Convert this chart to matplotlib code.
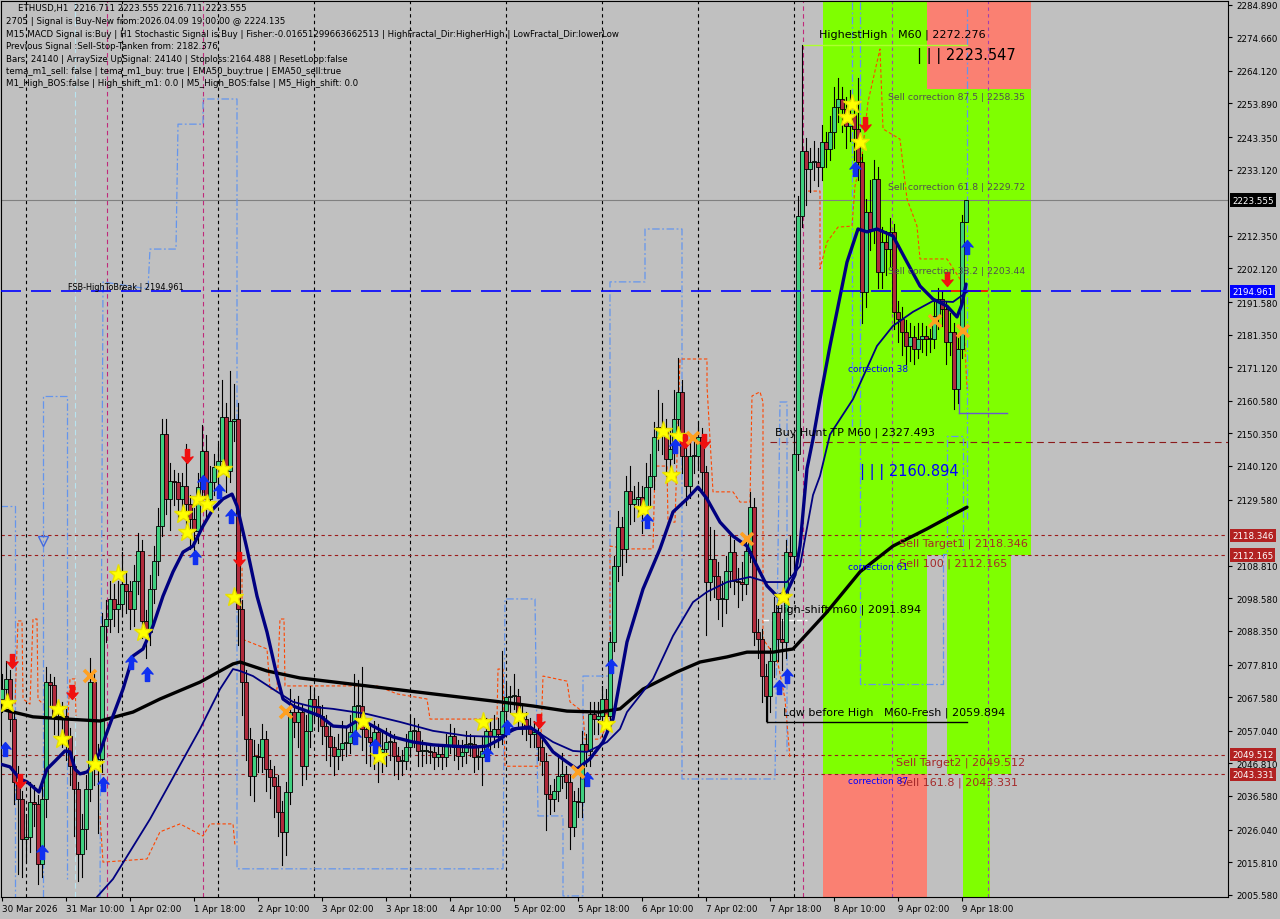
import matplotlib
matplotlib.use('Agg')
import matplotlib.pyplot as plt
import matplotlib.transforms as mtransforms
from matplotlib.patches import Rectangle
from matplotlib.path import Path

# ---- candle data (H1 bars, index 0 = 30 Mar 18:00) ----
first_open = 2067.0
closes = [2070.1, 2073.3, 2060.7, 2041.0, 2035.6, 2023.1, 2023.7, 2034.7, 2034.1, 2015.2,
          2035.6, 2072.3, 2071.4, 2061.7, 2060.7, 2061.7, 2055.4, 2045.9, 2038.7, 2018.4,
          2026.2, 2038.7, 2072.3, 2045.9, 2048.2, 2089.9, 2092.1, 2098.4, 2095.3, 2096.8,
          2103.1, 2100.9, 2095.3, 2104.0, 2113.4, 2091.5, 2088.0, 2101.5, 2110.3, 2121.3,
          2150.2, 2129.8, 2135.4, 2135.1, 2129.8, 2133.9, 2128.2, 2123.5, 2119.7, 2133.5,
          2144.8, 2129.8, 2135.1, 2139.8, 2141.7, 2155.5, 2138.6, 2154.2, 2154.9, 2095.3,
          2072.3, 2054.4, 2042.8, 2049.1, 2048.8, 2054.4, 2045.0, 2042.5, 2039.7, 2031.5,
          2025.3, 2037.8, 2062.9, 2059.8, 2062.9, 2045.9, 2057.0, 2067.0, 2064.8, 2061.7,
          2058.5, 2055.4, 2051.9, 2049.1, 2051.3, 2053.2, 2053.2, 2056.6, 2064.8, 2064.8,
          2057.6, 2055.1, 2053.5, 2056.6, 2050.4, 2051.3, 2053.5, 2053.5, 2049.1, 2047.5,
          2047.5, 2051.9, 2057.0, 2057.0, 2050.7, 2050.7, 2050.7, 2050.4, 2048.8, 2049.7,
          2048.8, 2052.2, 2055.4, 2051.9, 2049.1, 2050.4, 2052.9, 2052.9, 2048.8, 2048.8,
          2050.7, 2057.0, 2055.4, 2057.6, 2056.0, 2063.2, 2067.6, 2067.9, 2067.9, 2061.7,
          2060.7, 2058.2, 2056.0, 2056.6, 2051.9, 2047.5, 2037.2, 2035.6, 2038.1, 2042.8,
          2043.5, 2041.0, 2026.8, 2035.0, 2034.7, 2052.9, 2050.7, 2062.3, 2060.7, 2061.7,
          2067.0, 2061.7, 2084.9, 2108.7, 2121.0, 2114.1, 2132.3, 2128.2, 2129.8, 2130.4,
          2127.3, 2133.5, 2137.0, 2149.2, 2152.4, 2151.1, 2142.3, 2145.5, 2154.9, 2163.4,
          2143.3, 2133.9, 2143.3, 2143.3, 2149.2, 2138.3, 2103.7, 2110.9, 2105.6, 2098.4,
          2098.4, 2107.2, 2113.1, 2104.0, 2103.7, 2103.1, 2113.4, 2127.3, 2088.0, 2085.8,
          2074.2, 2067.9, 2078.9, 2094.3, 2085.8, 2084.9, 2113.1, 2111.9, 2143.9, 2218.6,
          2239.0, 2233.3, 2235.5, 2235.5, 2233.9, 2241.8, 2239.6, 2244.9, 2252.8, 2255.3,
          2252.2, 2246.8, 2250.6, 2245.9, 2235.5, 2194.7, 2219.8, 2214.5, 2230.2, 2201.0,
          2210.4, 2208.2, 2213.6, 2188.5, 2186.3, 2182.2, 2177.8, 2180.6, 2176.8, 2180.0,
          2180.9, 2180.0, 2180.0, 2187.2, 2192.5, 2189.4, 2179.0, 2182.2, 2164.3, 2176.8,
          2216.7, 2223.555]
highs = [2075, 2079, 2076, 2063, 2046, 2038, 2031, 2041, 2040, 2037,
         2040, 2077, 2075, 2074, 2065, 2066, 2064, 2058, 2049, 2041,
         2031, 2043, 2080, 2075, 2053, 2094, 2098, 2104, 2103, 2104,
         2113, 2107, 2104, 2109, 2119, 2117, 2095, 2106, 2115, 2127,
         2155, 2155, 2141, 2139, 2138, 2138, 2147, 2131, 2127, 2138,
         2153, 2150, 2140, 2144, 2147, 2167, 2160, 2170, 2166, 2160,
         2098, 2076, 2058, 2054, 2053, 2059, 2057, 2048, 2046, 2043,
         2035, 2041, 2070, 2067, 2068, 2065, 2062, 2071, 2070, 2068,
         2065, 2062, 2059, 2055, 2056, 2060, 2058, 2062, 2075, 2073,
         2077, 2061, 2059, 2060, 2059, 2057, 2058, 2057, 2056, 2052,
         2051, 2056, 2062, 2061, 2059, 2054, 2053, 2053, 2052, 2053,
         2052, 2056, 2059, 2058, 2054, 2054, 2057, 2056, 2055, 2052,
         2055, 2061, 2060, 2062, 2061, 2082, 2072, 2071, 2075, 2070,
         2065, 2063, 2061, 2060, 2059, 2054, 2050, 2040, 2042, 2049,
         2050, 2046, 2043, 2038, 2039, 2057, 2056, 2066, 2066, 2066,
         2071, 2070, 2088, 2112, 2126, 2124, 2137, 2140, 2134, 2135,
         2134, 2141, 2144, 2154, 2164, 2160, 2155, 2152, 2164, 2174,
         2167, 2147, 2150, 2150, 2154, 2152, 2140, 2121, 2120, 2110,
         2104, 2112, 2118, 2117, 2108, 2110, 2118, 2132, 2130, 2092,
         2089, 2078, 2083, 2099, 2098, 2092, 2117, 2118, 2150, 2225,
         2272.276, 2243, 2240, 2242, 2240, 2247, 2245, 2250, 2259, 2262,
         2259, 2256, 2258, 2255, 2262, 2238, 2224, 2230, 2236, 2234,
         2215, 2214, 2218, 2216, 2192, 2190, 2186, 2185, 2184, 2185,
         2185, 2184, 2183, 2192, 2196, 2195, 2192, 2188, 2185, 2181,
         2219, 2223.555]
lows = [2063, 2066, 2057, 2034, 2012, 2011, 2016, 2019, 2027, 2009,
        2011, 2030, 2065, 2056, 2055, 2052, 2048, 2040, 2024, 2010,
        2011, 2020, 2035, 2040, 2025, 2044, 2085, 2088, 2090, 2088,
        2093, 2094, 2089, 2090, 2100, 2086, 2080, 2084, 2097, 2106,
        2118, 2125, 2120, 2128, 2123, 2126, 2121, 2114, 2112, 2116,
        2129, 2124, 2126, 2131, 2134, 2138, 2132, 2135, 2148, 2084,
        2062, 2048, 2037, 2035, 2044, 2044, 2038, 2036, 2030, 2024,
        2015, 2018, 2034, 2055, 2052, 2040, 2042, 2052, 2060, 2057,
        2053, 2048, 2046, 2043, 2045, 2048, 2049, 2050, 2053, 2058,
        2051, 2047, 2046, 2045, 2041, 2044, 2046, 2048, 2043, 2042,
        2043, 2045, 2049, 2052, 2046, 2046, 2047, 2047, 2045, 2046,
        2045, 2046, 2050, 2048, 2045, 2046, 2047, 2049, 2044, 2045,
        2040, 2048, 2051, 2052, 2052, 2053, 2060, 2063, 2064, 2058,
        2056, 2054, 2052, 2052, 2048, 2043, 2026, 2031, 2032, 2035,
        2039, 2036, 2020, 2024, 2030, 2030, 2046, 2046, 2056, 2056,
        2058, 2056, 2058, 2082, 2104, 2106, 2110, 2122, 2123, 2125,
        2119, 2123, 2128, 2133, 2145, 2144, 2137, 2138, 2141, 2150,
        2138, 2128, 2130, 2138, 2139, 2132, 2087, 2098, 2099, 2092,
        2090, 2094, 2102, 2100, 2096, 2098, 2100, 2110, 2084, 2080,
        2066, 2060, 2063, 2074, 2079, 2076, 2080, 2106, 2108, 2139,
        2215, 2222, 2226, 2230, 2228, 2230, 2234, 2236, 2240, 2248,
        2245, 2240, 2242, 2236, 2230, 2185, 2190, 2208, 2210, 2196,
        2196, 2200, 2203, 2183, 2179, 2175, 2172, 2173, 2172, 2174,
        2176, 2175, 2176, 2177, 2183, 2184, 2172, 2175, 2158, 2160,
        2174, 2216.711]

# ---- moving averages (bar index, price) ----
ema_fast = [(-0.5, 2046.6), (2, 2045.7), (4.5, 2041.9), (6.25, 2041.0), (9.25, 2037.8),
            (11.25, 2045.0), (13.25, 2047.5), (15.75, 2050.7), (17, 2050.4), (18.25, 2045.0),
            (19.5, 2043.5), (21.25, 2044.1), (22.75, 2046.0), (24.5, 2050.4), (26.25, 2056.6),
            (27.75, 2061.7), (30.25, 2070.1), (32.75, 2080.5), (35.25, 2082.7), (37.75, 2089.9),
            (40.25, 2099.3), (42.75, 2106.9), (45.25, 2113.1), (47.75, 2115.0), (50.25, 2121.3),
            (52.75, 2126.6), (55.25, 2129.8), (57.5, 2131.3), (58.75, 2127.6), (61.25, 2114.1),
            (63.75, 2099.3), (66.25, 2088.0), (68.75, 2074.2), (70.25, 2067.0), (72.75, 2064.8),
            (76.25, 2063.2), (79.5, 2061.7), (82.75, 2058.5), (86.25, 2058.2), (89.5, 2060.7),
            (92.75, 2058.5), (97.75, 2055.1), (102.75, 2053.5), (107.75, 2052.6), (112.75, 2052.2),
            (117.75, 2051.9), (121.25, 2052.2), (124.5, 2054.4), (127.75, 2057.6), (132, 2058.2),
            (134.5, 2056.0), (137.75, 2050.4), (141.25, 2047.2), (143.75, 2045.0), (147, 2048.2),
            (150.25, 2053.5), (152.75, 2060.7), (156.25, 2084.9), (160.25, 2101.5), (164.5, 2114.1),
            (167.75, 2125.7), (171.25, 2129.8), (174, 2133.5), (176.25, 2129.8), (179.5, 2122.5),
            (182.75, 2118.1), (186.25, 2115.0), (188.75, 2108.7), (191.25, 2102.5), (193.75, 2099.3),
            (196.25, 2100.6), (198.25, 2106.0), (199.5, 2115.0), (201.25, 2139.3), (202.75, 2148.6),
            (204.5, 2161.1), (207, 2177.8), (211.25, 2204.1), (214, 2214.5), (216.25, 2213.6),
            (218.75, 2214.5), (222.75, 2212.3), (226.25, 2204.1), (229.5, 2196.6), (232.75, 2192.5),
            (236.25, 2190.3), (238.75, 2186.9), (240, 2190.9), (241, 2197.2)]
ema_slow = [(23.75, 2004.9), (27.75, 2010.5), (37, 2029.3), (49.5, 2057.6), (54.5, 2070.1),
            (57.75, 2076.4), (59.5, 2075.8), (62.75, 2074.2), (67.75, 2070.1), (72.75, 2066.1),
            (77.75, 2064.5), (82.75, 2063.9), (91.25, 2062.3), (99.5, 2059.8), (107.75, 2057.0),
            (116.25, 2055.4), (124.5, 2055.1), (128.75, 2057.6), (132.75, 2057.6), (137.75, 2053.5),
            (142.75, 2050.7), (146.25, 2050.4), (151.25, 2053.5), (154.5, 2057.6), (156.25, 2062.9),
            (162.75, 2073.3), (167.75, 2086.8), (172.75, 2097.4), (176.25, 2100.6), (181.25, 2103.7),
            (187, 2105.3), (191.25, 2103.7), (196.25, 2103.7), (199.5, 2108.7), (202.75, 2131.0),
            (204.5, 2137.0), (207, 2150.0), (212.75, 2161.1), (218.75, 2177.8), (222.75, 2184.1),
            (227.75, 2188.5), (232.75, 2191.9), (237.75, 2191.6), (241.5, 2195.0)]
ma_long = [(-0.5, 2063.9), (7.75, 2061.4), (16.25, 2060.7), (24.5, 2060.1), (32.75, 2062.9),
           (39.5, 2067.0), (49.5, 2072.3), (57.75, 2078.0), (59.5, 2078.6), (66.25, 2075.8),
           (74.5, 2073.6), (91.25, 2071.1), (107.75, 2068.6), (124.5, 2066.1), (132.75, 2064.8),
           (141.25, 2063.2), (149.5, 2062.9), (154.5, 2063.9), (160.25, 2070.1), (168.75, 2075.5),
           (174.5, 2078.6), (181.25, 2080.2), (186.25, 2081.7), (192.75, 2081.7), (197.75, 2082.7),
           (206.25, 2094.3), (214.5, 2106.9), (222.75, 2115.0), (231.25, 2120.4), (241.25, 2127.2)]

# ---- channel step lines (bar index, price) ----
blue_steps = [
    [(-0.5, 2127.6), (3.25, 2127.6), (3.25, 2004.9)],
    [(10.25, 2004.9), (10.25, 2162.1), (16.25, 2162.1), (16.25, 2010.5)],
    [(24.5, 2004.9), (25.25, 2197.9), (36.5, 2195.7), (37, 2208.2), (43.5, 2208.2), (44, 2247.4),
     (50.25, 2247.4), (50.25, 2255.3), (58.75, 2255.3), (58.75, 2013.7), (125.25, 2013.7),
     (125.75, 2098.4), (133.25, 2098.4), (134, 2030.3), (140.25, 2030.3), (140.25, 2005.2),
     (145.25, 2005.2), (145.25, 2074.2), (152, 2074.2), (152, 2197.9), (160.75, 2197.9),
     (160.75, 2214.5), (170, 2214.5), (170, 2041.9), (193.25, 2041.9), (194.5, 2160.2),
     (196.25, 2160.2), (196.25, 2050.0)],
    [(212.5, 2285.7), (212.5, 2151.7)],
    [(214.5, 2285.7), (214.5, 2071.7), (235.25, 2071.7), (235.25, 2112.5), (236.25, 2112.5),
     (236.25, 2149.5), (240.25, 2149.5), (240.25, 2112.5)],
    [(241.25, 2283.5), (241.25, 2123.5)]]
orange_steps = [
    [(3.25, 2065.4), (4, 2091.5), (5, 2091.5), (5.25, 2067.0), (7, 2065.4), (7.75, 2092.1),
     (8.75, 2092.1), (9, 2067.0), (10.25, 2065.4)],
    [(16.5, 2061.7), (17, 2073.3), (18.25, 2073.3), (18.5, 2061.7)],
    [(24.5, 2030.3), (25.25, 2015.8), (36.25, 2016.8), (39.5, 2025.3), (44.5, 2027.8),
     (50.25, 2024.0), (52, 2027.8), (57.75, 2027.8), (58.25, 2020.9)],
    [(59, 2108.7), (60, 2108.7), (60, 2085.8), (66.25, 2082.7), (67, 2070.1), (68.75, 2070.1),
     (69.5, 2092.1), (70.5, 2092.1), (70.75, 2071.1), (93.75, 2071.1), (98.75, 2068.6),
     (106.25, 2067.0), (107, 2060.7), (123.75, 2060.7), (124, 2076.4), (125.25, 2076.4),
     (125.75, 2045.9), (134.5, 2045.9), (135.25, 2074.2), (141.25, 2072.6), (142, 2066.1),
     (145.25, 2062.9), (145.75, 2054.4), (149.5, 2054.4), (152, 2060.7), (152, 2115.0),
     (156.25, 2114.1), (162.75, 2114.1), (163.25, 2140.1), (166.25, 2140.1), (166.5, 2122.5),
     (168.25, 2122.5), (169.5, 2173.7), (176.25, 2173.7), (176.25, 2165.2), (177.75, 2132.0),
     (182.75, 2132.0), (184.5, 2128.8), (187, 2128.8), (187.5, 2162.1), (189.5, 2163.4),
     (190.25, 2160.2), (190.25, 2085.8), (193.75, 2079.6), (195.75, 2067.0), (197, 2048.2)],
    [(201.5, 2226.4), (204.5, 2226.4), (204.5, 2202.0), (206.25, 2210.4), (209, 2215.1),
     (212.5, 2215.4), (213.25, 2228.0), (215, 2237.4), (216.5, 2254.4), (219.5, 2271.0),
     (220.25, 2245.9), (224.5, 2242.7), (226.25, 2223.9), (228.75, 2215.4), (229.5, 2205.1),
     (236.25, 2205.1), (239.5, 2198.8), (240, 2195.7), (241.25, 2164.3)]]

# ---- signal markers (bar index, price) ----
stars = [(1.25, 2065.7), (14, 2063.9), (15, 2054.4), (23.25, 2046.6), (29, 2106.2), (35.25, 2088.0),
         (45.25, 2125.1), (46.25, 2119.4), (49, 2129.8), (51.25, 2128.2), (55.25, 2139.2), (58, 2099.0),
         (90.25, 2060.1), (94.25, 2049.1), (120.25, 2059.8), (129.25, 2061.7), (151, 2059.2),
         (160.25, 2126.6), (165.25, 2151.1), (169, 2149.5), (167.25, 2137.3), (195.25, 2099.0),
         (212.5, 2253.7), (211.25, 2249.6), (214.5, 2241.8)]
buy_arrows = [(0.75, 2051.3), (10, 2019.0), (25.25, 2040.3), (32.25, 2078.6), (36.25, 2074.8),
              (48.25, 2111.6), (50.25, 2135.1), (54.25, 2132.3), (57.25, 2124.4), (88.25, 2055.1),
              (93.25, 2052.2), (121.25, 2049.7), (126.25, 2058.2), (146.25, 2041.9), (152.25, 2077.3),
              (161.25, 2122.9), (168.25, 2146.4), (196.25, 2074.2), (194.25, 2070.8), (213.25, 2233.3),
              (241.25, 2208.9)]
sell_arrows = [(2.5, 2078.9), (4.5, 2041.3), (17.5, 2069.2), (46.25, 2143.3), (59.25, 2110.9),
               (134.25, 2060.1), (170.75, 2148.0), (175.5, 2148.0), (215.75, 2247.5), (236.25, 2198.8)]
crosses = [(22, 2074.2), (71, 2062.9), (144, 2044.1), (172.75, 2148.9), (186.25, 2117.2),
           (233.25, 2185.6), (240.25, 2182.5)]
fractal_down = [(10.25, 2116.6)]

# ---- levels ----
current_price = 2223.555
fsb_high = 2194.961
sell_target1 = 2118.346
sell_100 = 2112.165
sell_target2 = 2049.512
sell_1618 = 2043.331
buy_hunt_line = 2147.6
highest_high = 2272.276
low_before_high = 2059.894
high_shift = 2091.894
sell_corr_875 = 2258.35

day_breaks = [6, 30, 54, 78, 102, 126, 150, 174, 198]
tick_bars = [0, 16, 32, 48, 64, 80, 96, 112, 128, 144, 160, 176, 192, 208, 224, 240]
tick_labels = ['30 Mar 2026', '31 Mar 10:00', '1 Apr 02:00', '1 Apr 18:00', '2 Apr 10:00',
               '3 Apr 02:00', '3 Apr 18:00', '4 Apr 10:00', '5 Apr 02:00', '5 Apr 18:00',
               '6 Apr 10:00', '7 Apr 02:00', '7 Apr 18:00', '8 Apr 10:00', '9 Apr 02:00',
               '9 Apr 18:00']
price_ticks = [2284.890, 2274.660, 2264.120, 2253.890, 2243.350, 2233.120, 2212.350, 2202.120,
               2191.580, 2181.350, 2171.120, 2160.580, 2150.350, 2140.120, 2129.580, 2108.810,
               2098.580, 2088.350, 2077.810, 2067.580, 2057.040, 2046.810, 2036.580, 2026.040,
               2015.810, 2005.580]

info_lines = ['2705 | Signal is Buy-New from:2026.04.09 19:00:00 @ 2224.135',
              'M15 MACD Signal is:Buy | H1 Stochastic Signal is:Buy | Fisher:-0.01651299663662513 | HighFractal_Dir:HigherHigh | LowFractal_Dir:lowerLow',
              'Previous Signal :Sell-Stop-Tanken from: 2182.376',
              'Bars: 24140 | ArraySize UpSignal: 24140 | Stoploss:2164.488 | ResetLoop:false',
              'tema_m1_sell: false | tema_m1_buy: true | EMA50_buy:true | EMA50_sell:true',
              'M1_High_BOS:false | High_shift_m1: 0.0 | M5_High_BOS:false | M5_High_shift: 0.0']

W, H = 1280, 920
fig = plt.figure(figsize=(12.8, 9.2), dpi=100)
fig.patch.set_facecolor('#C0C0C0')
ax = fig.add_axes([1 / W, (H - 898) / H, 1227 / W, 896 / H])
ax.set_facecolor('#C0C0C0')
ax.set_xlim(-0.25, 306.5)
ax.set_ylim(2004.86, 2286.05)


def ftext(x, y, s, **kw):
    fig.text(x / W, 1 - y / H, s, **kw)


# zones
green = '#7FFF00'
salmon = '#FA8072'
zones = [(205.25, 257.25, sell_100, 2300, green), (231.25, 257.25, sell_corr_875, 2300, salmon),
         (205.25, 231.25, sell_1618, sell_100, green), (205.25, 231.25, 1990, sell_1618, salmon),
         (236.25, 252.25, sell_1618, sell_100, green), (240.25, 247.0, 1990, sell_1618, green)]
for x0, x1, y0, y1, c in zones:
    ax.add_patch(Rectangle((x0, y0), x1 - x0, y1 - y0, facecolor=c, edgecolor='none', zorder=0))

# vertical separators
for b in day_breaks:
    ax.axvline(b, color='black', lw=0.8, ls=(0, (3, 3)), zorder=1)
for b in [26.25, 50.25, 200.25]:
    ax.axvline(b, color='#C0287A', lw=0.8, ls=(0, (4, 3)), zorder=1)
for b in [222.5, 246.5]:
    ax.axvline(b, color='#A040B0', lw=0.8, ls=(0, (3, 3)), zorder=1)
ax.axvline(18.25, color='#B8E4F0', lw=0.8, ls=(0, (5, 3)), zorder=1)

# channel step lines
for pts in blue_steps:
    ax.plot([p[0] for p in pts], [p[1] for p in pts], color='#6495ED', lw=0.9,
            ls=(0, (6, 2, 1.5, 2)), zorder=2)
for pts in orange_steps:
    ax.plot([p[0] for p in pts], [p[1] for p in pts], color='#FF4500', lw=0.8,
            ls=(0, (3, 2)), zorder=2)

# horizontal levels
ax.axhline(current_price, color='#808080', lw=0.8, zorder=1)
for lv in [sell_target1, sell_100, sell_target2, sell_1618]:
    ax.axhline(lv, color='#9B1C1C', lw=0.8, ls=(0, (3, 3)), zorder=1)
ax.plot([192, 306.5], [buy_hunt_line] * 2, color='#8B1A1A', lw=0.8, ls=(0, (6, 4)), zorder=1)
ax.plot([200.25, 241.25], [highest_high] * 2, color='#ADFF2F', lw=1, zorder=2)
ax.plot([191.25, 241.25], [low_before_high] * 2, color='black', lw=1, zorder=2)
ax.plot([191.25, 191.25], [low_before_high, 2070], color='black', lw=1, zorder=2)
ax.plot([190.25, 201.25], [high_shift] * 2, color='white', lw=1, ls=(0, (4, 2)), zorder=2)
ax.plot([234.25, 246.25], [fsb_high] * 2, color='red', lw=1.2, zorder=3)
ax.plot([239.25, 251.25], [2156.8] * 2, color='#6A5ACD', lw=1, zorder=2)
ax.plot([239.25, 239.25], [2156.8, 2165], color='#6A5ACD', lw=1, zorder=2)

# candles
opens = [first_open] + closes[:-1]
for i, (o, c, h, l) in enumerate(zip(opens, closes, highs, lows)):
    ax.plot([i, i], [l, h], color='black', lw=0.8, zorder=4)
    lo, hi = min(o, c), max(o, c)
    fc = '#3FD07F' if c >= o else '#B02A3C'
    ax.add_patch(Rectangle((i - 0.38, lo), 0.76, max(hi - lo, 0.35), facecolor=fc,
                           edgecolor='black', lw=0.6, zorder=5))

# moving averages
for pts, c, lw in [(ma_long, 'black', 2.4), (ema_slow, '#000080', 1.3), (ema_fast, '#000080', 2.4)]:
    ax.plot([p[0] for p in pts], [p[1] for p in pts], color=c, lw=lw, zorder=6,
            solid_capstyle='round', solid_joinstyle='round')

ax.axhline(fsb_high, color='#0000FF', lw=1.2, ls=(0, (12, 6)), zorder=7)

# markers
up = Path([(0, 1), (0.8, 0.05), (0.3, 0.25), (0.3, -1), (-0.3, -1), (-0.3, 0.25), (-0.8, 0.05), (0, 1)],
          [Path.MOVETO] + [Path.LINETO] * 6 + [Path.CLOSEPOLY])
down = Path([(x, -y) for x, y in up.vertices], up.codes)
ax.plot([p[0] for p in stars], [p[1] for p in stars], ls='none', marker='*', ms=14,
        mfc='#FFFF00', mec='#E8E000', zorder=8)
ax.plot([p[0] for p in buy_arrows], [p[1] for p in buy_arrows], ls='none', marker=up, ms=10,
        mfc='#1030F0', mec='#1030F0', zorder=8)
ax.plot([p[0] for p in sell_arrows], [p[1] for p in sell_arrows], ls='none', marker=down, ms=10,
        mfc='#F01010', mec='#F01010', zorder=8)
ax.plot([p[0] for p in crosses], [p[1] for p in crosses], ls='none', marker='x', ms=9, mew=2.6,
        color='#FFA020', zorder=8)
ax.plot([p[0] for p in fractal_down], [p[1] for p in fractal_down], ls='none', marker='v', ms=7,
        mfc='none', mec='#4169E1', mew=1, zorder=8)

# axes styling
for s in ['left', 'top', 'right', 'bottom']:
    ax.spines[s].set_color('black')
ax.yaxis.tick_right()
ax.set_yticks(price_ticks)
ax.set_yticklabels(['%.3f' % v for v in price_ticks])
ax.tick_params(axis='y', direction='out', length=3, pad=3, labelsize=6.3, colors='black')
ax.set_xticks(tick_bars)
ax.set_xticklabels(tick_labels, ha='left')
ax.tick_params(axis='x', direction='out', length=3, pad=2, labelsize=6.3, colors='black')

# right-side price boxes
trans = mtransforms.blended_transform_factory(ax.transAxes, ax.transData)
for val, bg in [(current_price, 'black'), (fsb_high, '#0000FF'), (sell_target1, '#B22222'),
                (sell_100, '#B22222'), (sell_target2, '#B22222'), (sell_1618, '#B22222')]:
    ax.text(1.0 + 4 / 1227, val, '%.3f' % val, transform=trans, ha='left', va='center',
            fontsize=6.3, color='white', zorder=10, clip_on=False,
            bbox=dict(boxstyle='square,pad=0.25', fc=bg, ec='none'))

# annotations
ftext(819, 35, 'HighestHigh   M60 | 2272.276', fontsize=8, va='center')
ftext(917, 56, '| | | 2223.547', fontsize=10.5, va='center')
ftext(888, 97, 'Sell correction 87.5 | 2258.35', fontsize=6.7, va='center', color='#505050')
ftext(888, 187, 'Sell correction 61.8 | 2229.72', fontsize=6.7, va='center', color='#505050')
ftext(888, 271, 'Sell correction 38.2 | 2203.44', fontsize=6.7, va='center', color='#505050')
ftext(848, 370, 'correction 38', fontsize=6.5, va='center', color='#0000FF')
ftext(775, 433, 'Buy Hunt TP M60 | 2327.493', fontsize=8, va='center')
ftext(860, 472, '| | | 2160.894', fontsize=10.5, va='center', color='#0000FF')
ftext(899, 544, 'Sell Target1 | 2118.346', fontsize=8, va='center', color='#A52A2A')
ftext(899, 564, 'Sell 100 | 2112.165', fontsize=8, va='center', color='#A52A2A')
ftext(848, 567, 'correction 61', fontsize=6.5, va='center', color='#0000FF')
ftext(775, 610, 'High-shift m60 | 2091.894', fontsize=8, va='center')
ftext(783, 713, 'Low before High   M60-Fresh | 2059.894', fontsize=8, va='center')
ftext(896, 763, 'Sell Target2 | 2049.512', fontsize=8, va='center', color='#A52A2A')
ftext(899, 783, 'Sell 161.8 | 2043.331', fontsize=8, va='center', color='#A52A2A')
ftext(848, 781, 'correction 87', fontsize=6.5, va='center', color='#0000FF')
ftext(68, 287, 'FSB-HighToBreak | 2194.961', fontsize=5.9, va='center')

ftext(18, 9, 'ETHUSD,H1  2216.711 2223.555 2216.711 2223.555', fontsize=6.2, va='center')
for k, line in enumerate(info_lines):
    ftext(6, 22 + k * 12.4, line, fontsize=6.2, va='center')

fig.savefig('out.png', dpi=100, facecolor=fig.get_facecolor())
